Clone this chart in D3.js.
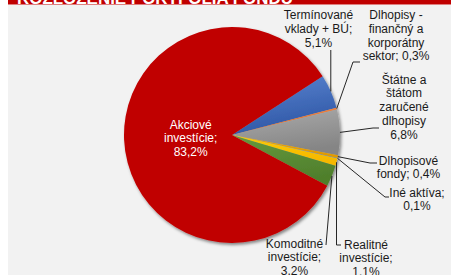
<!DOCTYPE html>
<html>
<head>
<meta charset="utf-8">
<script src="https://cdn.jsdelivr.net/npm/d3@7"></script>
<style>
  body { margin: 0; background: #fff; }
  svg { display: block; font-family: "Liberation Sans", Arial, sans-serif; }
</style>
</head>
<body>
<svg id="chart"></svg>
<script>
const W = 451, H = 275;

// data (clockwise, starting after the big red slice)
const categories = ["Termínované vklady + BÚ", "Dlhopisy - finančný a korporátny sektor", "Štátne a štátom zaručené dlhopisy",
                    "Dlhopisové fondy", "Iné aktíva", "Realitné investície", "Komoditné investície", "Akciové investície"];
const values = [5.1, 0.3, 6.8, 0.4, 0.1, 1.1, 3.2, 83.2];
const labelLines = [
  ["Termínované", "vklady + BÚ;", "5,1%"],
  ["Dlhopisy -", "finančný a", "korporátny", "sektor; 0,3%"],
  ["Štátne a", "štátom", "zaručené", "dlhopisy", "6,8%"],
  ["Dlhopisové", "fondy; 0,4%"],
  ["Iné aktíva;", "0,1%"],
  ["Realitné", "investície;", "1,1%"],
  ["Komoditné", "investície;", "3,2%"],
  ["Akciové", "investície;", "83,2%"]
];
const colors = [["#5b85d2", "#2f58a6"], ["#f08a4b", "#d9692a"], ["#ababab", "#858585"], ["#f2a900", "#e09a00"],
                ["#7fa6cf", "#5b86b5"], ["#ffcc00", "#f5b800"], ["#66993d", "#4f7f2c"], ["#c00000", "#c00000"]];

// label layout: text centre x, first baseline y, leader bend points
const layout = [
  { x: 318.5, y: 19, lead: e => [[e[0], 50]] },
  { x: 396, y: 19, lead: () => [[353, 62], [360, 62]] },
  { x: 404, y: 83.5, lead: () => [[373, 128], [379, 128]] },
  { x: 408.5, y: 164.5, lead: () => [[370, 163], [377, 163]] },
  { x: 417, y: 196.5, lead: () => [[385, 197], [389, 197]] },
  { x: 366, y: 248.5, lead: e => [[e[0], 245], [341, 245]] },
  { x: 294.5, y: 247.5, lead: () => [[326, 245]] },
  { x: 190.7, y: 128.5, lead: null }
];

const svg = d3.select("#chart").attr("width", W).attr("height", H);
const defs = svg.append("defs");

const shadow = defs.append("filter").attr("id", "shadow")
  .attr("x", "-10%").attr("y", "-10%").attr("width", "130%").attr("height", "130%");
shadow.append("feDropShadow").attr("dx", 1.5).attr("dy", 2).attr("stdDeviation", 1.5)
  .attr("flood-color", "#000").attr("flood-opacity", 0.45);

colors.forEach((c, i) => {
  const g = defs.append("linearGradient").attr("id", "g" + i)
    .attr("x1", 0).attr("y1", 0).attr("x2", 0.3).attr("y2", 1);
  g.append("stop").attr("offset", "0%").attr("stop-color", c[0]);
  g.append("stop").attr("offset", "100%").attr("stop-color", c[1]);
});

// background panel and title strip
svg.append("rect").attr("x", 8).attr("y", 5).attr("width", W - 8).attr("height", H - 5).attr("fill", "#f2f2f2");
svg.append("rect").attr("x", 8).attr("y", 0).attr("width", W - 8).attr("height", 4.5).attr("fill", "#c00000");
svg.append("text")
   .attr("x", 17).attr("y", 3.5)
   .attr("font-size", "17px").attr("font-weight", "bold").attr("fill", "#fff")
   .attr("textLength", 276).attr("lengthAdjust", "spacingAndGlyphs")
   .text("ROZLOŽENIE PORTFÓLIA FONDU");

const cx = 232, cy = 135, r = 108;
const start = 57 * Math.PI / 180;

const pie = d3.pie().sort(null).value(d => d).startAngle(start).endAngle(start + 2 * Math.PI);
const arcs = pie(values);
const arc = d3.arc().innerRadius(0).outerRadius(r);

const g = svg.append("g").attr("transform", `translate(${cx},${cy})`);

g.append("g").attr("filter", "url(#shadow)")
 .selectAll("path")
 .data(arcs)
 .enter().append("path")
 .attr("d", arc)
 .attr("fill", (d, i) => `url(#g${i})`);

// leader lines
const edge = d => {
  const a = (d.startAngle + d.endAngle) / 2;
  return [cx + r * Math.sin(a), cy - r * Math.cos(a)];
};
const line = d3.line();
arcs.forEach((d, i) => {
  if (!layout[i].lead) return;
  const e = edge(d);
  svg.append("path")
     .attr("d", line([e].concat(layout[i].lead(e))))
     .attr("fill", "none")
     .attr("stroke", "#262626")
     .attr("stroke-width", 1);
});

// labels
labelLines.forEach((lines, i) => {
  const t = svg.append("text")
    .attr("text-anchor", "middle")
    .attr("font-size", "12px")
    .attr("fill", i === 7 ? "#fff" : "#1a1a1a");
  lines.forEach((s, j) => {
    t.append("tspan").attr("x", layout[i].x).attr("y", layout[i].y + j * 13.8).text(s);
  });
});
</script>
</body>
</html>
